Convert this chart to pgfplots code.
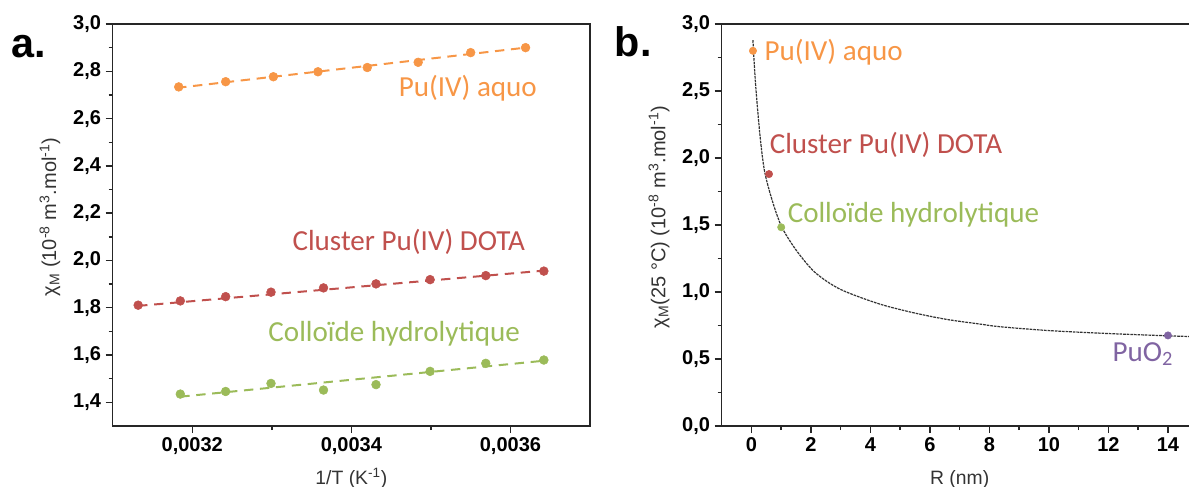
\documentclass[border=0pt]{standalone}
\usepackage{fontspec}
\setmainfont{Liberation Sans}
\newfontfamily\calibri{Carlito}
\usepackage{pgfplots}
\pgfplotsset{compat=1.18}
\definecolor{cOr}{HTML}{F79646}
\definecolor{cRd}{HTML}{C0504D}
\definecolor{cGn}{HTML}{9BBB59}
\definecolor{cPu}{HTML}{8064A2}
\definecolor{lab}{HTML}{333333}
\pgfplotsset{
  myax/.style={
    scale only axis,
    axis line style={line width=1.1pt, black!85},
    tick style={line width=1.1pt, black!85},
    tick align=outside, tick pos=left,
    major tick length=5.25pt, minor tick length=3pt,
    ticklabel style={font=\fontsize{15}{17}\selectfont\bfseries},
    /pgf/number format/assume math mode=true,
    /pgf/number format/use comma,
    every axis x label/.style={at={(axis description cs:0.5,0)}, anchor=base, yshift=-43.5pt,
      font=\fontsize{14.5}{17}\selectfont, text=lab},
    every axis y label/.style={at={(axis description cs:-0.1315,0.52)}, rotate=90, anchor=center,
      font=\fontsize{15}{17}\selectfont, text=lab},
  },
  fit/.style={line width=1.5pt, dash pattern=on 7pt off 5pt},
  dots/.style={only marks, mark=*, mark size=3.3pt},
}
\begin{document}
\begin{tikzpicture}
% ---------------- panel a ----------------
\begin{axis}[myax,
  at={(84.525pt,45pt)}, anchor=south west,
  width=357.98pt, height=301.5pt,
  xmin=0.0031, xmax=0.0037, ymin=1.3, ymax=3.0,
  xtick={0.0032,0.0034,0.0036}, minor x tick num=1,
  ytick={1.4,1.6,1.8,2.0,2.2,2.4,2.6,2.8,3.0}, minor y tick num=1,
  scaled x ticks=false,
  xticklabel style={/pgf/number format/.cd, fixed, fixed zerofill, precision=4},
  yticklabel style={/pgf/number format/.cd, fixed, fixed zerofill, precision=1},
  xlabel={1/T (K\textsuperscript{-1})},
  ylabel={χ\textsubscript{M} (10\textsuperscript{-8} m\textsuperscript{3}.mol\textsuperscript{-1})},
]
\addplot[cOr, fit] coordinates {(0.003181,2.730) (0.003619,2.900)};
\addplot[cRd, fit] coordinates {(0.003132,1.808) (0.003642,1.957)};
\addplot[cGn, fit] coordinates {(0.003185,1.424) (0.003642,1.576)};
\addplot[dots, cOr] coordinates {
 (0.003183,2.734) (0.003242,2.756) (0.003302,2.777) (0.003358,2.798)
 (0.003420,2.816) (0.003484,2.838) (0.003550,2.879) (0.003619,2.900)};
\addplot[dots, cRd] coordinates {
 (0.003132,1.811) (0.003185,1.829) (0.003242,1.847) (0.003299,1.866)
 (0.003365,1.884) (0.003431,1.901) (0.003499,1.919) (0.003569,1.936) (0.003642,1.955)};
\addplot[dots, cGn] coordinates {
 (0.003185,1.435) (0.003242,1.446) (0.003299,1.480) (0.003365,1.452)
 (0.003431,1.475) (0.003499,1.531) (0.003569,1.565) (0.003642,1.579)};
\end{axis}
% ---------------- panel b ----------------
\begin{axis}[myax,
  at={(541.275pt,45pt)}, anchor=south west,
  width=357pt, height=301.5pt,
  xmin=-1, xmax=15, ymin=0, ymax=3.0,
  xtick={0,2,...,14}, minor x tick num=1,
  ytick={0,0.5,1.0,1.5,2.0,2.5,3.0}, minor y tick num=1,
  yticklabel style={/pgf/number format/.cd, fixed, fixed zerofill, precision=1},
  xlabel={R (nm)},
  ylabel={χ\textsubscript{M}(25 °C) (10\textsuperscript{-8} m\textsuperscript{3}.mol\textsuperscript{-1})},
]
\addplot[smooth, line width=0.9pt, black!80, dash pattern=on 2pt off 0.7pt] coordinates {
 (0.05,2.88) (0.10,2.68) (0.17,2.46) (0.30,2.14) (0.45,1.89) (0.73,1.66)
 (1.03,1.48) (1.51,1.31) (2.07,1.16) (2.63,1.065) (3.19,1.00) (4.31,0.91)
 (5.43,0.846) (6.55,0.796) (7.67,0.761) (8.35,0.741) (10,0.712) (12,0.690)
 (14,0.673) (15,0.666)};
\addplot[dots, mark size=2.75pt, cOr] coordinates {(0.05,2.80)};
\addplot[dots, mark size=2.75pt, cRd] coordinates {(0.59,1.88)};
\addplot[dots, mark size=2.75pt, cGn] coordinates {(1.0,1.483)};
\addplot[dots, mark size=2.75pt, cPu] coordinates {(14,0.676)};
\end{axis}
% ---------------- annotations (pixel coordinates) ----------------
\begin{scope}[x=0.75pt, y=-0.75pt, yshift=364.5pt,
  every node/.style={anchor=base west, inner sep=0pt, font=\calibri\fontsize{21.8}{26}\selectfont}]
\node[text=cOr] at (398.5,97) {Pu(IV) aquo};
\node[text=cRd] at (292.3,250.7) {Cluster Pu(IV) DOTA};
\node[text=cGn] at (268.2,341.7) {Colloïde hydrolytique};
\node[text=cOr] at (764.3,61) {Pu(IV) aquo};
\node[text=cRd] at (769.5,154) {Cluster Pu(IV) DOTA};
\node[text=cGn] at (787.5,223) {Colloïde hydrolytique};
\node[text=cPu] at (1112.3,361) {PuO\textsubscript{2}};
\node[font=\fontsize{31}{36}\selectfont\bfseries] at (11,58) {a.};
\node[font=\fontsize{31}{36}\selectfont\bfseries] at (614.5,57) {b.};
\end{scope}
\pgfresetboundingbox
\useasboundingbox (0,0) rectangle (891.75pt,364.5pt);
\end{tikzpicture}
\end{document}
